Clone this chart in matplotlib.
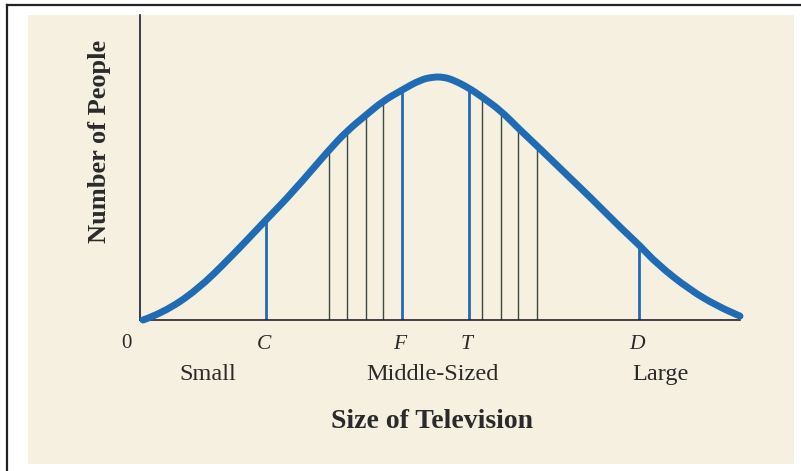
import matplotlib
matplotlib.use("Agg")
import matplotlib.pyplot as plt
from matplotlib.patches import Rectangle, PathPatch
from matplotlib.lines import Line2D
from matplotlib.path import Path

# curve (size of TV 0-100, number of people 0-100)
curve_x = [0.5, 3.8, 9.5, 15.0, 21.0, 25.5, 31.5, 34.5, 37.7, 40.5, 43.7, 46.7, 48.8,
           50.5, 52.2, 54.8, 57.0, 60.2, 63.0, 66.2, 71.7, 75.0, 80.5, 83.2, 86.2,
           91.7, 96.2, 100.0]
curve_y = [0.0, 2.9, 12.3, 25.5, 41.2, 52.7, 70.0, 77.8, 84.4, 90.1, 94.7, 98.8, 100.0,
           100.0, 98.8, 95.5, 91.8, 86.0, 79.0, 71.6, 58.4, 50.6, 37.0, 30.9, 23.0,
           12.3, 5.8, 1.6]

# labelled drop lines (C, F, T, D)
key_x = [21.0, 43.7, 54.8, 83.2]
key_h = [41.2, 94.7, 95.5, 30.9]
key_labels = ["C", "F", "T", "D"]

# thin hatch lines between C-F and T-D
thin_x = [31.5, 34.5, 37.7, 40.5, 57.0, 60.2, 63.0, 66.2]
thin_h = [70.0, 77.8, 84.4, 90.1, 91.8, 86.0, 79.0, 71.6]

size_groups = ["Small", "Middle-Sized", "Large"]
group_x = [11.3, 48.7, 86.7]

W, H = 801, 471
fig = plt.figure(figsize=(W / 100, H / 100), dpi=100)
fig.patch.set_facecolor("white")

# page background and frame
fig.patches.append(Rectangle((28 / W, 1 - 464 / H), (794 - 28) / W, (464 - 15) / H,
                             transform=fig.transFigure, facecolor="#f6f0e1",
                             edgecolor="none", zorder=-10))
fig.lines.append(Line2D([7 / W, 1], [1 - 5 / H, 1 - 5 / H], transform=fig.transFigure,
                        color="#222222", lw=1.6, zorder=-5))
fig.lines.append(Line2D([7 / W, 7 / W], [0, 1 - 5 / H], transform=fig.transFigure,
                        color="#222222", lw=1.6, zorder=-5))

ax = fig.add_axes([140 / W, 1 - 320 / H, 600 / W, 305 / H])
ax.set_facecolor("none")
ax.set_xlim(0, 100)
ax.set_ylim(0, 305 / 2.43)
for s in ["top", "right"]:
    ax.spines[s].set_visible(False)
ax.spines["left"].set_color("#1c1c30")
ax.spines["bottom"].set_color("#2a1f2a")
ax.spines["left"].set_linewidth(1.2)
ax.spines["bottom"].set_linewidth(1.2)
ax.set_xticks([])
ax.set_yticks([])

blue = "#1f6cb4"
ax.vlines(thin_x, 0, thin_h, color="#3d4a40", lw=1.0, zorder=2)
ax.vlines(key_x, 0, key_h, color=blue, lw=2.0, zorder=2)

# smooth the read points with quadratic bezier segments through midpoints
pts = list(zip(curve_x, curve_y))
verts = [pts[0]]
codes = [Path.MOVETO]
for i in range(1, len(pts) - 1):
    mid = ((pts[i][0] + pts[i + 1][0]) / 2, (pts[i][1] + pts[i + 1][1]) / 2)
    verts += [pts[i], mid]
    codes += [Path.CURVE3, Path.CURVE3]
verts.append(pts[-1])
codes.append(Path.LINETO)
ax.add_patch(PathPatch(Path(verts, codes), facecolor="none", edgecolor=blue, lw=5,
                       capstyle="round", joinstyle="round", zorder=3, clip_on=False))

txt = "#2a2a2a"
serif = "Liberation Serif"
ax.text(-2.2, -9.8, "0", ha="center", va="center", fontsize=15, family=serif,
        color=txt, clip_on=False)
for x, lab in zip(key_x, key_labels):
    ax.text(x - 0.4, -10.0, lab, ha="center", va="center", fontsize=15.5, family=serif,
            style="italic", color=txt, clip_on=False)
for x, lab in zip(group_x, size_groups):
    ax.text(x, -22.5, lab, ha="center", va="center", fontsize=17.5, family=serif,
            color=txt, clip_on=False)
ax.text(48.7, -41.6, "Size of Television", ha="center", va="center", fontsize=20,
        family=serif, weight="bold", color=txt, clip_on=False)
ax.text(-6.8, 73.3, "Number of People", ha="center", va="center", rotation=90,
        fontsize=19, family=serif, weight="bold", color=txt, clip_on=False)

fig.savefig("out.png", dpi=100)
